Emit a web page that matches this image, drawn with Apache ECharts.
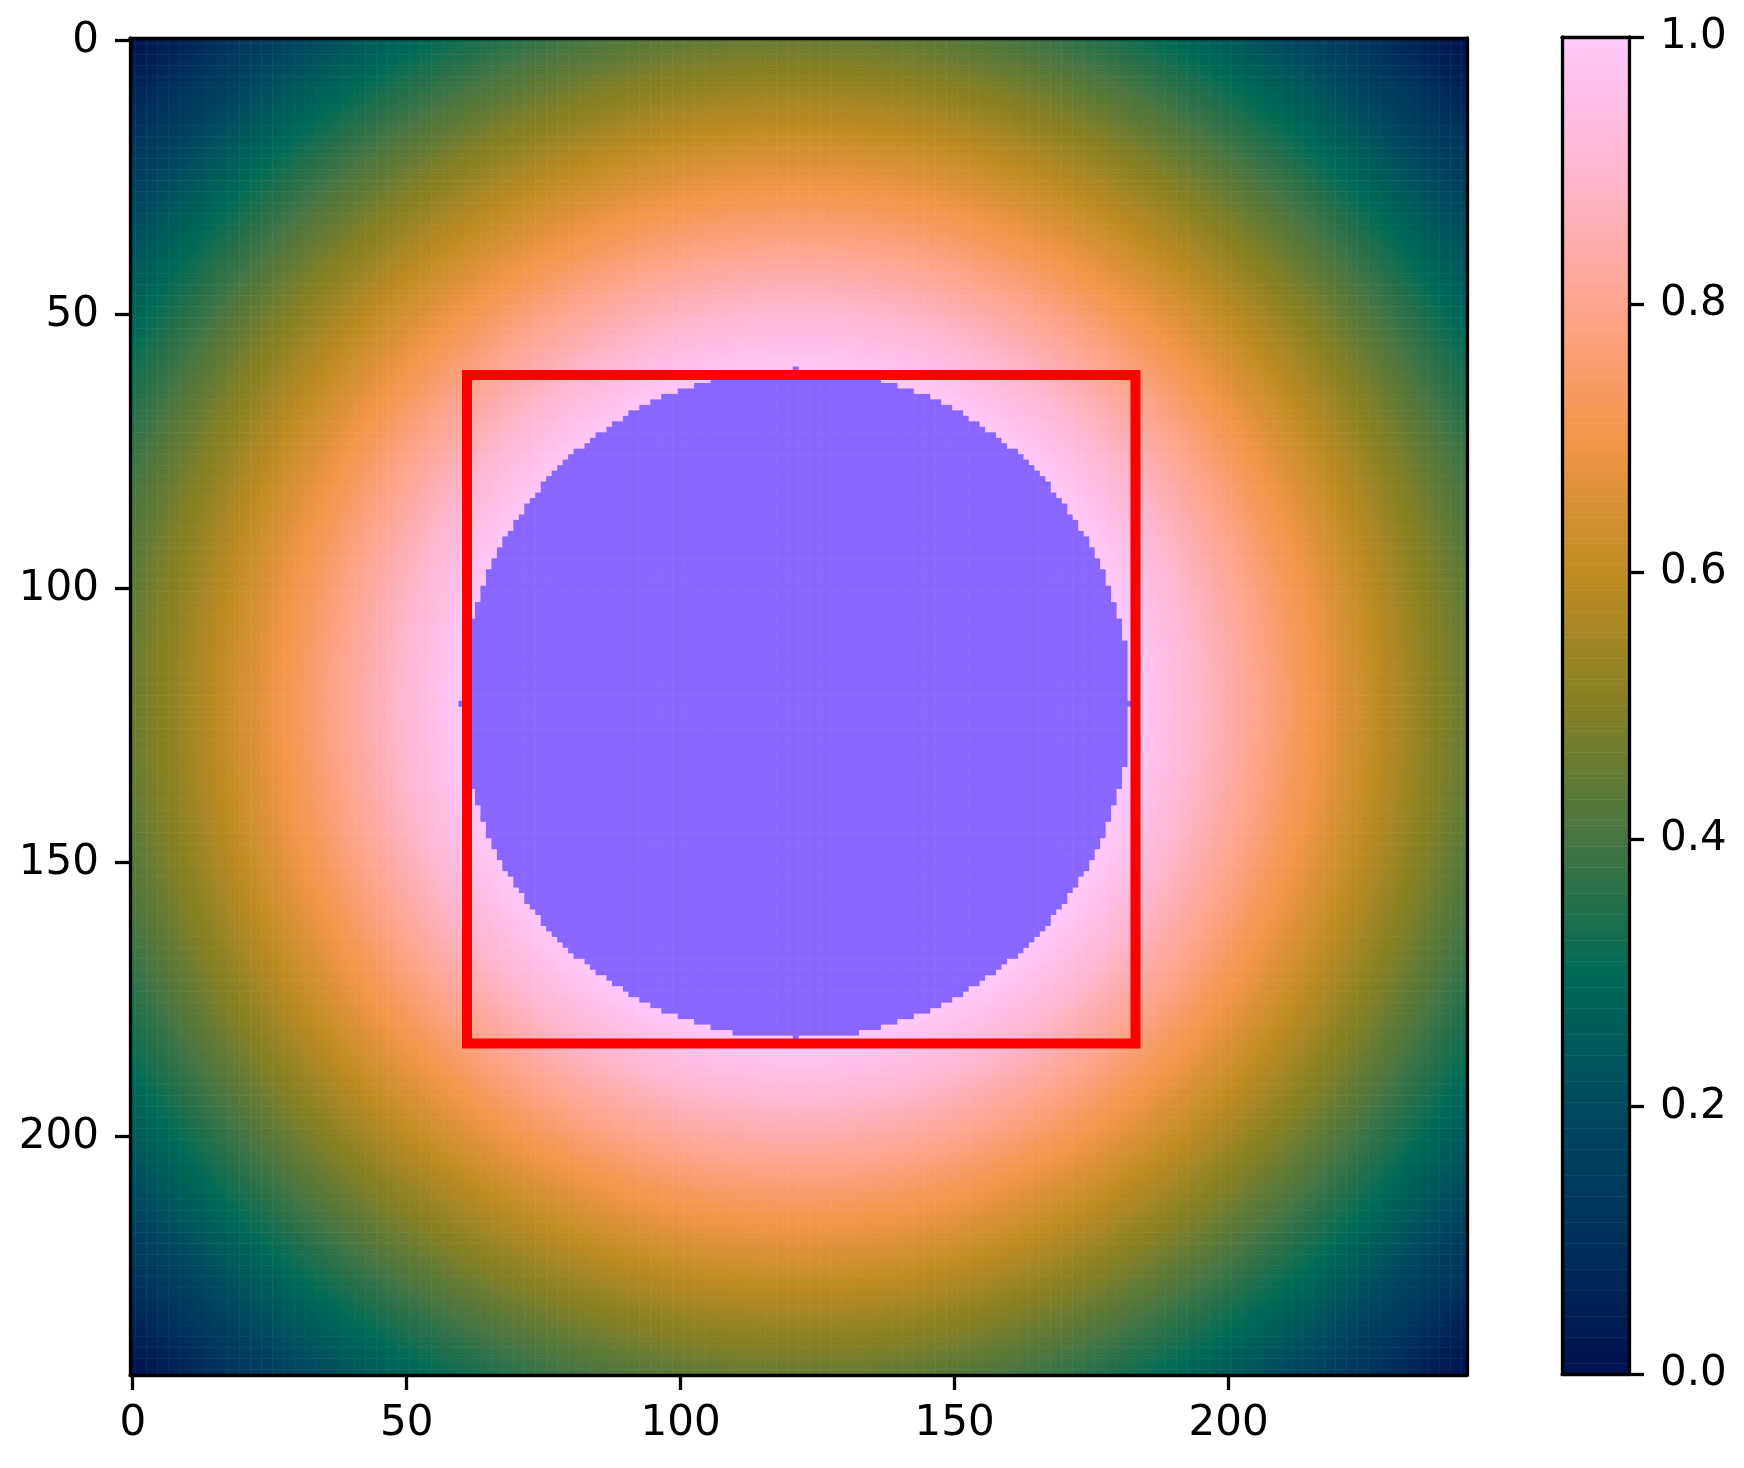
<!DOCTYPE html>
<html>
<head>
<meta charset="utf-8">
<title>radial field with disc and box</title>
<script src="https://cdn.jsdelivr.net/npm/echarts@6/dist/echarts.min.js"></script>
<style>
    html, body { margin: 0; padding: 0; background: #fff; }
    #chart { width: 1744px; height: 1468px; }
</style>
</head>
<body>
<div id="chart"></div>
<script>
// image is square, 244 pixels a side
var imageSize = 244;
var gradientCenter = [121.5, 121.5];
// radial profile (distance from centre -> value)
var profileRadius = [0, 61, 70, 80, 90, 100, 110, 120, 130, 140, 150, 160, 170, 172];
var profileValue = [1.0, 1.0, 0.92, 0.83, 0.74, 0.65, 0.56, 0.47, 0.38, 0.29, 0.2, 0.11, 0.02, 0.0];
// purple disc
var discCenter = [121, 121];
var discRadius = 61;
// red box corners
var boxX = [61, 183, 183, 61, 61];
var boxY = [61, 61, 183, 183, 61];
// tick labels
var axisTicks = [0, 50, 100, 150, 200];
var colorbarSteps = 256;
// colour map, 0.0 -> 1.0
var colormap = ['#00104f', '#00305a', '#004a60', '#006a55', '#467542', '#858024',
                '#c08c22', '#f29648', '#fda58f', '#ffb6d0', '#ffc8fa'];

var cats = [];
for (var i = 0; i < imageSize; i++) cats.push(String(i));

function profileAt(r) {
    for (var i = 1; i < profileRadius.length; i++) {
        if (r <= profileRadius[i]) {
            var t = (r - profileRadius[i - 1]) / (profileRadius[i] - profileRadius[i - 1]);
            return profileValue[i - 1] + t * (profileValue[i] - profileValue[i - 1]);
        }
    }
    return profileValue[profileValue.length - 1];
}

var fieldData = [];
var discData = [];
for (var y = 0; y < imageSize; y++) {
    for (var x = 0; x < imageSize; x++) {
        var dx = x - gradientCenter[0], dy = y - gradientCenter[1];
        fieldData.push([x, y, profileAt(Math.sqrt(dx * dx + dy * dy))]);
        var ex = x - discCenter[0], ey = y - discCenter[1];
        if (ex * ex + ey * ey <= discRadius * discRadius) discData.push([x, y, 1]);
    }
}

var cbCats = [];
var cbData = [];
for (var k = 0; k < colorbarSteps; k++) {
    cbCats.push(String(k));
    cbData.push([0, k, (k + 0.5) / colorbarSteps]);
}

var font = { color: '#000', fontFamily: 'DejaVu Sans', fontSize: 42 };
var edge = { show: true, onZero: false, lineStyle: { color: '#000', width: 3.3 } };
var tickStyle = { color: '#000', width: 3.3 };
function onTick(index) { return axisTicks.indexOf(index) >= 0; }

// axis used only to draw a frame edge
function frameAxis(extra) {
    var a = {
        type: 'category', z: 10, axisLine: edge,
        axisTick: { show: false }, axisLabel: { show: false }, splitLine: { show: false }
    };
    for (var key in extra) a[key] = extra[key];
    return a;
}

var myChart = echarts.init(document.getElementById('chart'));
myChart.setOption({
    animation: false,
    backgroundColor: '#fff',
    grid: [
        { left: 130, top: 38, width: 1337, height: 1337 },
        { left: 1562, top: 37, width: 67, height: 1337 }
    ],
    xAxis: [
        {
            type: 'category', gridIndex: 0, data: cats, position: 'bottom', z: 10,
            axisLine: edge,
            axisTick: { show: true, alignWithLabel: true, interval: onTick, length: 15, lineStyle: tickStyle },
            axisLabel: Object.assign({ interval: onTick, margin: 28 }, font),
            splitLine: { show: false }
        },
        frameAxis({ gridIndex: 0, data: cats, position: 'top' }),
        { type: 'value', gridIndex: 0, min: -0.5, max: imageSize - 0.5, show: false },
        frameAxis({ gridIndex: 1, data: ['cb'], position: 'bottom' }),
        frameAxis({ gridIndex: 1, data: ['cb'], position: 'top' })
    ],
    yAxis: [
        {
            type: 'category', gridIndex: 0, data: cats, inverse: true, position: 'left', z: 10,
            axisLine: edge,
            axisTick: { show: true, alignWithLabel: true, interval: onTick, length: 15, lineStyle: tickStyle },
            axisLabel: Object.assign({ interval: onTick, margin: 31 }, font),
            splitLine: { show: false }
        },
        frameAxis({ gridIndex: 0, data: cats, inverse: true, position: 'right' }),
        { type: 'value', gridIndex: 0, min: -0.5, max: imageSize - 0.5, inverse: true, show: false },
        frameAxis({ gridIndex: 1, data: cbCats, position: 'left' }),
        {
            type: 'value', gridIndex: 1, min: 0, max: 1, interval: 0.2, position: 'right', z: 10,
            axisLine: edge,
            axisTick: { show: true, length: 15, lineStyle: tickStyle },
            axisLabel: Object.assign({ margin: 31, formatter: function (v) { return v.toFixed(1); } }, font),
            splitLine: { show: false }
        }
    ],
    visualMap: [
        { type: 'continuous', show: false, min: 0, max: 1, seriesIndex: [0, 3], inRange: { color: colormap } },
        { type: 'continuous', show: false, min: 0, max: 1, seriesIndex: [1], inRange: { color: ['#8866ff', '#8866ff'] } }
    ],
    series: [
        {
            type: 'heatmap', xAxisIndex: 0, yAxisIndex: 0, data: fieldData,
            progressive: 0, silent: true
        },
        {
            type: 'heatmap', xAxisIndex: 0, yAxisIndex: 0, data: discData,
            progressive: 0, silent: true, z: 3
        },
        {
            type: 'line', xAxisIndex: 2, yAxisIndex: 2, z: 5, silent: true,
            data: boxX.map(function (v, i) { return [v, boxY[i]]; }),
            symbol: 'none',
            lineStyle: { color: '#ff0000', width: 10, join: 'miter', cap: 'square' }
        },
        {
            type: 'heatmap', xAxisIndex: 3, yAxisIndex: 3, data: cbData,
            progressive: 0, silent: true
        }
    ]
});
window.addEventListener('resize', function () { myChart.resize(); });
</script>
</body>
</html>
